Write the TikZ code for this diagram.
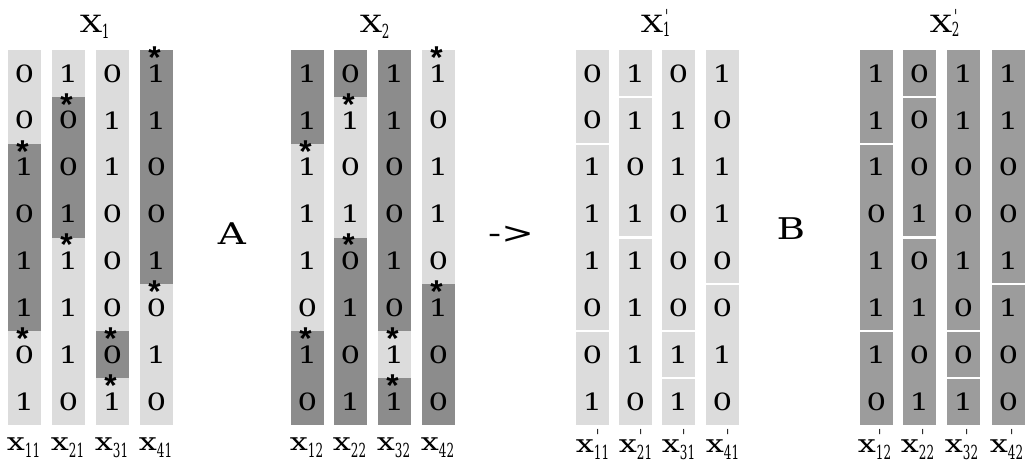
\documentclass[tikz,border=0pt]{standalone}
\usepackage{fontspec}
\usetikzlibrary{calc}
\setmainfont{DejaVu Serif}
\newfontfamily\cellfont[FakeStretch=1.3]{DejaVu Serif}
\newfontfamily\subfont[FakeStretch=0.62]{DejaVu Serif}
\newfontfamily\starfont{Liberation Sans}
\definecolor{barlight}{HTML}{DCDCDC}
\definecolor{bardark}{HTML}{8C8C8C}
\definecolor{barmid}{HTML}{9C9C9C}

% subscripts (zero width, for titles) and primes
\newcommand{\sbx}[2][-4.5pt]{\rlap{\raisebox{#1}{\subfont\fontsize{11}{11}\selectfont #2}}}
\newcommand{\psbx}[2][-4.5pt]{\rlap{\raisebox{#1}{\subfont\fontsize{11}{11}\selectfont #2}}\rlap{\raisebox{5pt}{\subfont\fontsize{11}{11}\selectfont\kern1.2pt\textquotesingle}}}
% subscripts with their own width, for column labels
\newcommand{\lsb}[1]{\raisebox{-4.5pt}{\subfont\fontsize{11}{11}\selectfont #1}}
\newcommand{\plsb}[1]{\rlap{\raisebox{5pt}{\subfont\fontsize{11}{11}\selectfont\kern1.2pt\textquotesingle}}\lsb{#1}}

\tikzset{
  digit/.style={font=\cellfont\fontsize{13.5}{13.5}\selectfont, inner sep=0pt},
  title/.style={font=\cellfont\fontsize{13.5}{13.5}\selectfont, inner sep=0pt, anchor=base},
  collabel/.style={font=\cellfont\fontsize{14}{14}\selectfont, inner sep=0pt, anchor=base},
  opname/.style={font=\cellfont\fontsize{17}{17}\selectfont, inner sep=0pt},
  cut/.style={font=\starfont\bfseries\fontsize{18}{18}\selectfont, inner sep=0pt, anchor=base, yshift=-10.4pt},
  gap/.style={draw=white, line width=1.2pt},
}

\begin{document}
\begin{tikzpicture}[x=0.02cm, y=-0.02cm]
\useasboundingbox (0,0) rectangle (1030,470);
\fill[white] (0,0) rectangle (1030,470);

% column left edges of the four matrices
\def\colsA{8,52,96,140}
\def\colsB{291,334,378,422}
\def\colsC{576,619,662,706}
\def\colsD{860,903,947,992}
\def\colw{33}
\def\rowh{46.875}

% ---------- matrix X1 ----------
\foreach \x in \colsA {
  \fill[barlight] (\x,50) rectangle ++(\colw,375);
}
\foreach \c/\a/\b in {1/2/6, 2/1/4, 3/6/7, 4/0/5} {
  \pgfmathsetmacro{\xl}{{8,52,96,140}[\c-1]}
  \fill[bardark] (\xl,{50+\a*\rowh}) rectangle (\xl+\colw,{50+\b*\rowh});
}
% ---------- matrix X2 ----------
\foreach \x in \colsB {
  \fill[barlight] (\x,50) rectangle ++(\colw,375);
}
\foreach \c/\a/\b in {1/0/2, 1/6/8, 2/0/1, 2/4/8, 3/0/6, 3/7/8, 4/5/8} {
  \pgfmathsetmacro{\xl}{{291,334,378,422}[\c-1]}
  \fill[bardark] (\xl,{50+\a*\rowh}) rectangle (\xl+\colw,{50+\b*\rowh});
}
% ---------- matrix X1' and X2' ----------
\foreach \x in \colsC {
  \fill[barlight] (\x,50) rectangle ++(\colw,375);
}
\foreach \x in \colsD {
  \fill[barmid] (\x,50) rectangle ++(\colw,375);
}
% segment gaps in the recombined matrices
\foreach \c/\k in {1/2, 1/6, 2/1, 2/4, 3/6, 3/7, 4/5} {
  \pgfmathsetmacro{\xl}{{576,619,662,706}[\c-1]}
  \pgfmathsetmacro{\xm}{{860,903,947,992}[\c-1]}
  \draw[gap] (\xl,{50+\k*\rowh}) -- (\xl+\colw,{50+\k*\rowh});
  \draw[gap] (\xm,{50+\k*\rowh}) -- (\xm+\colw,{50+\k*\rowh});
}

% ---------- cell values ----------
\foreach \m/\xs in {a/{8,52,96,140}, b/{291,334,378,422}, c/{576,619,662,706}, d/{860,903,947,992}} {
  \foreach \x [count=\c] in \xs {
    \coordinate (col-\m-\c) at (\x+16.5,0);
  }
}
\foreach \r/\vals in {1/{0,1,0,1},2/{0,0,1,1},3/{1,0,1,0},4/{0,1,0,0},5/{1,1,0,1},6/{1,1,0,0},7/{0,1,0,1},8/{1,0,1,0}} {
  \foreach \v [count=\c] in \vals {
    \node[digit] (a-\r-\c) at ($(col-a-\c)+(0,{50+(\r-0.5)*\rowh})$) {\v};
  }
}
\foreach \r/\vals in {1/{1,0,1,1},2/{1,1,1,0},3/{1,0,0,1},4/{1,1,0,1},5/{1,0,1,0},6/{0,1,0,1},7/{1,0,1,0},8/{0,1,1,0}} {
  \foreach \v [count=\c] in \vals {
    \node[digit] (b-\r-\c) at ($(col-b-\c)+(0,{50+(\r-0.5)*\rowh})$) {\v};
  }
}
\foreach \r/\vals in {1/{0,1,0,1},2/{0,1,1,0},3/{1,0,1,1},4/{1,1,0,1},5/{1,1,0,0},6/{0,1,0,0},7/{0,1,1,1},8/{1,0,1,0}} {
  \foreach \v [count=\c] in \vals {
    \node[digit] (c-\r-\c) at ($(col-c-\c)+(0,{50+(\r-0.5)*\rowh})$) {\v};
  }
}
\foreach \r/\vals in {1/{1,0,1,1},2/{1,0,1,1},3/{1,0,0,0},4/{0,1,0,0},5/{1,0,1,1},6/{1,1,0,1},7/{1,0,0,0},8/{0,1,1,0}} {
  \foreach \v [count=\c] in \vals {
    \node[digit] (d-\r-\c) at ($(col-d-\c)+(0,{50+(\r-0.5)*\rowh})$) {\v};
  }
}

% ---------- crossover points ----------
\foreach \m in {a,b} {
  \foreach \c/\k in {1/2, 1/6, 2/1, 2/4, 3/6, 3/7, 4/0, 4/5} {
    \node[cut] (cut-\m-\c-\k) at ($(col-\m-\c)+(-2,{50+\k*\rowh})$) {*};
  }
}

% ---------- titles ----------
\node[title] (tA) at (91,32) {X\sbx[-3.5pt]{1}};
\node[title] (tB) at (371,32) {X\sbx[-3.5pt]{2}};
\node[title] (tC) at (652,32) {X\psbx[-2.5pt]{1}};
\node[title] (tD) at (941,32) {X\psbx[-2.5pt]{2}};

% ---------- column labels ----------
\foreach \c in {1,2,3,4} {
  \node[collabel] (la-\c) at ($(col-a-\c)+(-1,450)$) {x\lsb{\c1}};
  \node[collabel] (lb-\c) at ($(col-b-\c)+(-1,450)$) {x\lsb{\c2}};
  \node[collabel] (lc-\c) at ($(col-c-\c)+(0,452)$) {x\plsb{\c1}};
  \node[collabel] (ld-\c) at ($(col-d-\c)+(-2,452)$) {x\plsb{\c2}};
}

% ---------- operators ----------
\node[opname] (opA) at (232,234) {A};
\node[opname] (arrow) at (511,235) {->};
\node[opname] (opB) at (791,229) {B};
\end{tikzpicture}
\end{document}
